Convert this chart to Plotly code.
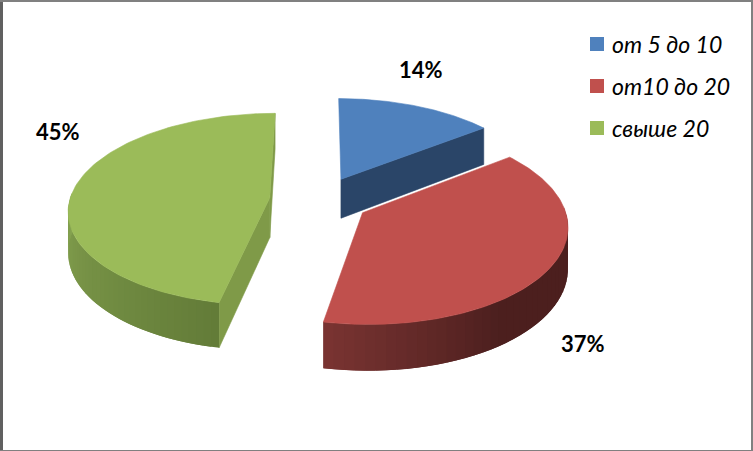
import math
import plotly.graph_objects as go

categories = ["от 5 до 10", "от10 до 20", "свыше 20"]
values = [14, 37, 45]
top_colors = ["#4F81BD", "#C0504D", "#9BBB59"]
wall_colors = ["#2A4568", "#7F9A48", "#7F9A48"]
wall_left = [None, "#7A3432", "#85A250"]   # colour at the start of the visible rim
wall_right = [None, "#4C1F1E", "#637C38"]  # colour at the end of the visible rim

W, H = 753, 451
CX, CY, RX, RY, PERSP, THICK, EXPLODE = 319.4, 200, 200, 95, 0.12, 40, 0.25
total = sum(values)


def project(X, Yd, down=0.0):
    w = 1 - PERSP * Yd
    return CX + RX * X / w, CY + RY * Yd / w + down / w


def rim(a0, a1, ox, oy, n=60):
    return [(ox + math.sin(a0 + (a1 - a0) * i / n), oy - math.cos(a0 + (a1 - a0) * i / n)) for i in range(n + 1)]


def hexmix(c0, c1, t):
    a = [int(c0[i:i + 2], 16) for i in (1, 3, 5)]
    b = [int(c1[i:i + 2], 16) for i in (1, 3, 5)]
    return "#%02x%02x%02x" % tuple(round(p + (q - p) * t) for p, q in zip(a, b))


def poly(pts, color, name, lw=0.6):
    xs = [p[0] for p in pts] + [pts[0][0]]
    ys = [p[1] for p in pts] + [pts[0][1]]
    return go.Scatter(x=xs, y=ys, mode="lines", fill="toself", fillcolor=color,
                      line=dict(color=color, width=lw), hoverinfo="text", text=name, showlegend=False)


fig = go.Figure()
bounds = []
acc = 0.0
for v in values:
    a0 = acc / total * 2 * math.pi
    acc += v
    a1 = acc / total * 2 * math.pi
    bounds.append((a0, a1))


def slice_origin(a0, a1):
    mid = (a0 + a1) / 2
    return EXPLODE * math.sin(mid), -EXPLODE * math.cos(mid)


def draw_slice(i):
    a0, a1 = bounds[i]
    ox, oy = slice_origin(a0, a1)
    name = categories[i]
    apex = (ox, oy)
    # inner walls
    if i == 0:
        e = rim(a1, a1, ox, oy, 1)[0]
        fig.add_trace(poly([project(*apex), project(*e), project(*e, THICK), project(*apex, THICK)], wall_colors[i], name))
    if i == 2:
        e = rim(a0, a0, ox, oy, 1)[0]
        fig.add_trace(poly([project(*apex), project(*e), project(*e, THICK), project(*apex, THICK)], wall_colors[i], name))
        e = rim(a1, a1, ox, oy, 1)[0]
        fig.add_trace(poly([project(*apex), project(*e), project(*e, THICK), project(*apex, THICK)], wall_colors[i], name))
    # outer rim (only the part that faces the viewer)
    lo, hi = max(a0, math.pi / 2 - 0.05), min(a1, 3 * math.pi / 2 + 0.05)
    if hi > lo and wall_left[i]:
        n = 40
        # each strip also covers its neighbour so that no seam shows; later strips paint over it
        for s in range(n):
            b0 = lo + (hi - lo) * s / n
            b1 = lo + (hi - lo) * min(s + 2, n) / n
            r = rim(b0, b1, ox, oy, 4)
            pts = [project(*p) for p in r] + [project(*p, THICK) for p in reversed(r)]
            t = (s + 0.5) / n
            if i == 1:
                col = hexmix(wall_right[i], wall_left[i], max(0.0, (t - 0.55) / 0.45))
            else:
                col = hexmix(wall_right[i], wall_left[i], t)
            fig.add_trace(poly(pts, col, name, lw=0))
    # top face
    pts = [project(*apex)] + [project(*p) for p in rim(a0, a1, ox, oy, 120)]
    fig.add_trace(poly(pts, top_colors[i], name))


for i in (0, 2, 1):
    draw_slice(i)

# value labels
label_pos = [(421, 69), (583, 343), (58, 131)]
for v, (lx, ly) in zip(values, label_pos):
    fig.add_annotation(x=lx, y=ly, text=f"<b>{v}%</b>", showarrow=False, xanchor="center", yanchor="middle",
                       font=dict(family="Lato, Open Sans, sans-serif", size=22, color="#000000"))

# legend
legend_x, legend_ys = 597, [44, 86, 128]
shapes = []
for c, cat, ly in zip(top_colors, categories, legend_ys):
    shapes.append(dict(type="rect", xref="x", yref="y", x0=legend_x - 7, x1=legend_x + 7, y0=ly - 7, y1=ly + 7,
                       fillcolor=c, line=dict(width=0)))
    fig.add_annotation(x=legend_x + 13, y=ly, text=f"<i>{cat}</i>", showarrow=False, xanchor="left", yanchor="middle",
                       font=dict(family="Lato, Open Sans, sans-serif", size=23, color="#000000"))

# frame of the picture
frame = "#808080"
shapes += [
    dict(type="rect", xref="x", yref="y", x0=0, x1=3, y0=0, y1=H, fillcolor="#606060", line=dict(width=0)),
    dict(type="rect", xref="x", yref="y", x0=0, x1=W, y0=0, y1=2, fillcolor=frame, line=dict(width=0)),
    dict(type="rect", xref="x", yref="y", x0=0, x1=W, y0=H - 1, y1=H, fillcolor=frame, line=dict(width=0)),
    dict(type="rect", xref="x", yref="y", x0=W - 2, x1=W, y0=0, y1=H, fillcolor=frame, line=dict(width=0)),
]

fig.update_layout(
    width=W, height=H, margin=dict(l=0, r=0, t=0, b=0), autosize=False,
    paper_bgcolor="#ffffff", plot_bgcolor="#ffffff", showlegend=False, shapes=shapes,
    xaxis=dict(range=[0, W], visible=False, fixedrange=True),
    yaxis=dict(range=[H, 0], visible=False, fixedrange=True),
)
fig.write_html("out.html", config={"displayModeBar": False},
               post_script="document.body.style.margin='0';document.body.style.overflow='hidden';")
